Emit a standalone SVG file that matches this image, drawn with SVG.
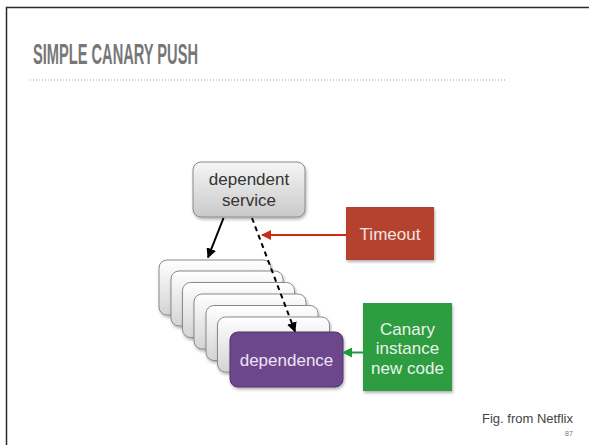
<svg xmlns="http://www.w3.org/2000/svg" width="589" height="445" viewBox="0 0 589 445">
<defs>
<style>
.t{font-family:"Liberation Sans",Arial,sans-serif;font-size:17px;text-anchor:middle}
.box{fill:url(#g);stroke:#8a8a8a;stroke-width:1}
.wbox{fill:url(#w);stroke:#8a8a8a;stroke-width:1}
</style>
<linearGradient id="g" x1="0" y1="0" x2="0" y2="1"><stop offset="0" stop-color="#f6f6f6"/><stop offset="1" stop-color="#c9c9c9"/></linearGradient>
<linearGradient id="w" x1="0" y1="0" x2="0" y2="1"><stop offset="0" stop-color="#ffffff"/><stop offset="1" stop-color="#d4d4d4"/></linearGradient>
<filter id="sh" x="-10%" y="-10%" width="130%" height="130%"><feDropShadow dx="1" dy="2" stdDeviation="1.5" flood-color="#000" flood-opacity="0.3"/></filter>
<marker id="ab" markerWidth="10" markerHeight="10" refX="9" refY="5" orient="auto" markerUnits="userSpaceOnUse"><path d="M0,0 L10,5 L0,10 Z" fill="#000"/></marker>
<marker id="ar" markerWidth="10" markerHeight="10" refX="9" refY="5" orient="auto" markerUnits="userSpaceOnUse"><path d="M0,0 L10,5 L0,10 Z" fill="#cc2a12"/></marker>
<marker id="ag" markerWidth="10" markerHeight="10" refX="9" refY="5" orient="auto" markerUnits="userSpaceOnUse"><path d="M0,0 L10,5 L0,10 Z" fill="#1f9a3a"/></marker>
</defs>
<rect width="589" height="445" fill="#fff"/>
<path d="M6.5,445 V7.5 H589" fill="none" stroke="#2a2a2a" stroke-width="1.5"/>
<text x="33" y="64" font-family="'Liberation Sans Narrow','Liberation Sans',Arial,sans-serif" font-weight="bold" font-size="30" fill="#777" textLength="165" lengthAdjust="spacingAndGlyphs">SIMPLE CANARY PUSH</text>
<line x1="30" y1="80" x2="507" y2="80" stroke="#999" stroke-width="1" stroke-dasharray="1,2"/>

<g id="dependent-service">
<rect class="box" x="193" y="162" width="112" height="55" rx="8" filter="url(#sh)"/>
<text class="t" x="249" y="185" fill="#333">dependent</text>
<text class="t" x="249" y="206" fill="#333">service</text>
</g>

<g id="instances">
<rect class="wbox" x="159" y="260" width="112" height="55" rx="8" filter="url(#sh)"/>
<rect class="wbox" x="171" y="271" width="112" height="55" rx="8" filter="url(#sh)"/>
<rect class="wbox" x="182.5" y="282.5" width="112" height="55" rx="8" filter="url(#sh)"/>
<rect class="wbox" x="194" y="294" width="112" height="55" rx="8" filter="url(#sh)"/>
<rect class="wbox" x="206" y="305.5" width="112" height="55" rx="8" filter="url(#sh)"/>
<rect class="wbox" x="217.5" y="317" width="112" height="55" rx="8" filter="url(#sh)"/>
</g>

<g id="dependence">
<rect x="230" y="332" width="113" height="55" rx="8" fill="#6c468c" stroke="#4e3268" stroke-width="1" filter="url(#sh)"/>
<text class="t" x="286.5" y="366" fill="#ece4f4">dependence</text>
</g>

<g id="timeout">
<rect x="346" y="207" width="88" height="53" fill="#b4432f" filter="url(#sh)"/>
<text class="t" x="390" y="240" fill="#f4e4e0">Timeout</text>
</g>

<g id="canary">
<rect x="363" y="303" width="89" height="88" fill="#2f9c41" filter="url(#sh)"/>
<text class="t" x="407.5" y="335" fill="#e8f4e8">Canary</text>
<text class="t" x="407.5" y="354" fill="#e8f4e8">instance</text>
<text class="t" x="407.5" y="374" fill="#e8f4e8">new code</text>
</g>

<g id="connectors" fill="none">
<line x1="223.5" y1="218" x2="208" y2="257.5" stroke="#000" stroke-width="2" marker-end="url(#ab)"/>
<line x1="252" y1="218" x2="295" y2="331.5" stroke="#000" stroke-width="2" stroke-dasharray="5,4" marker-end="url(#ab)"/>
<line x1="346" y1="235" x2="262" y2="235" stroke="#cc2a12" stroke-width="2" marker-end="url(#ar)"/>
<line x1="363" y1="352.5" x2="343" y2="352.5" stroke="#1f9a3a" stroke-width="2" marker-end="url(#ag)"/>
</g>

<text x="573" y="423" font-family="'Liberation Sans',Arial,sans-serif" font-size="13" fill="#444" text-anchor="end">Fig. from Netflix</text>
<text x="569" y="436" font-family="'Liberation Sans',Arial,sans-serif" font-size="7" fill="#777" text-anchor="middle">87</text>
</svg>
